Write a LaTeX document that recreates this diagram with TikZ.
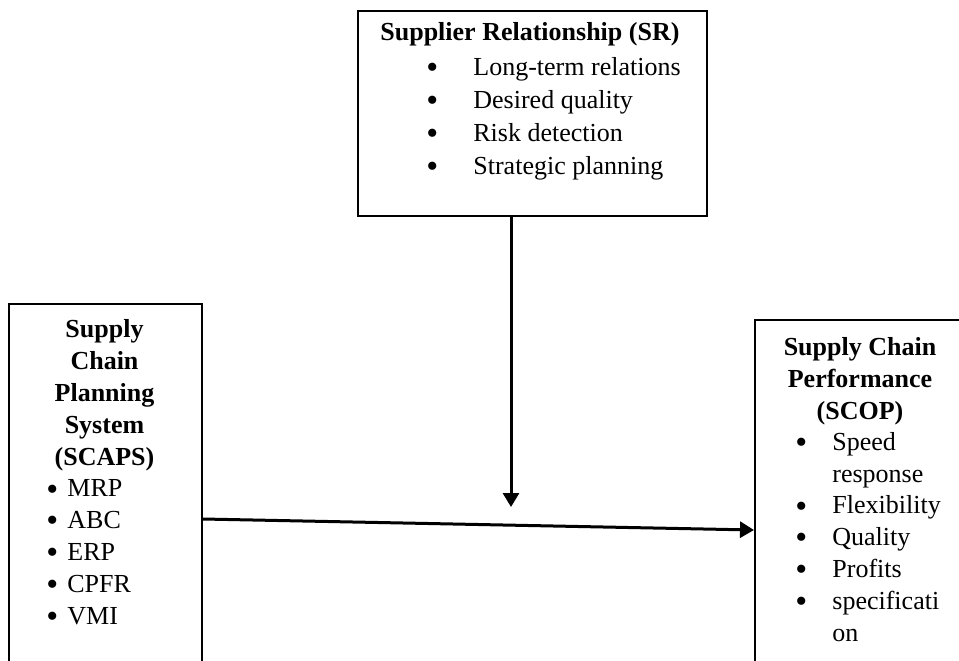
\documentclass[tikz,border=0pt]{standalone}
\usepackage{fontspec}
\setmainfont{Liberation Serif}
\usetikzlibrary{arrows.meta}

\newcommand{\listdot}{\smash{\raisebox{-1.6pt}{\fontsize{17}{17}\selectfont\textbullet}}}

\tikzset{
	box/.style={draw, line width=1pt, inner sep=0pt, anchor=north west},
	head/.style={font=\bfseries\fontsize{13}{15.9}\selectfont, align=center, anchor=base, inner sep=0pt},
	items/.style={font=\fontsize{13}{15.9}\selectfont, align=left, anchor=base west, inner sep=0pt},
	link/.style={->, line width=1.5pt}
}

\begin{document}
\begin{tikzpicture}[x=0.5pt, y=-0.5pt, >={Triangle[length=7pt,width=8pt]}]
	\useasboundingbox (0,0) rectangle (959,660);
	\clip (0,0) rectangle (959,660);

	% Boxes {sr, scaps, scop}
	\node [box, minimum width=174.5pt, minimum height=102.5pt] (srbox)    at (357,10)  {};
	\node [box, minimum width=96.5pt,  minimum height=200pt]   (scapsbox) at (8,303)   {};
	\node [box, minimum width=115pt,   minimum height=200pt]   (scopbox)  at (754,319) {};

	% Texts (base = last line)
	\node [head, anchor=base west] (srtitle) at (380,40) {Supplier Relationship (SR)};
	\node [items, font=\fontsize{13}{16.5}\selectfont] (srlist) at (426,174)
	{\makebox[23.5pt][l]{\listdot}Long-term relations\\
	 \makebox[23.5pt][l]{\listdot}Desired quality\\
	 \makebox[23.5pt][l]{\listdot}Risk detection\\
	 \makebox[23.5pt][l]{\listdot}Strategic planning};

	\node [head] (scapstitle) at (104.5,465) {Supply\\Chain\\Planning\\System\\(SCAPS)};
	\node [items] (scapslist) at (46,624)
	{\makebox[10.5pt][l]{\listdot}MRP\\
	 \makebox[10.5pt][l]{\listdot}ABC\\
	 \makebox[10.5pt][l]{\listdot}ERP\\
	 \makebox[10.5pt][l]{\listdot}CPFR\\
	 \makebox[10.5pt][l]{\listdot}VMI};

	\node [head] (scoptitle) at (860,419) {Supply Chain\\Performance\\(SCOP)};
	\node [items] (scoplist) at (795,641)
	{\makebox[18.5pt][l]{\listdot}Speed\\
	 \makebox[18.5pt][l]{}response\\
	 \makebox[18.5pt][l]{\listdot}Flexibility\\
	 \makebox[18.5pt][l]{\listdot}Quality\\
	 \makebox[18.5pt][l]{\listdot}Profits\\
	 \makebox[18.5pt][l]{\listdot}specificati\\
	 \makebox[18.5pt][l]{}on};

	% Paths
	\coordinate (drop) at (511,507);
	\draw [link] (drop |- srbox.south) -- (drop);
	\draw [link] ([yshift=-108pt]scapsbox.north east) -- ([yshift=-105.5pt]scopbox.north west);
\end{tikzpicture}
\end{document}
